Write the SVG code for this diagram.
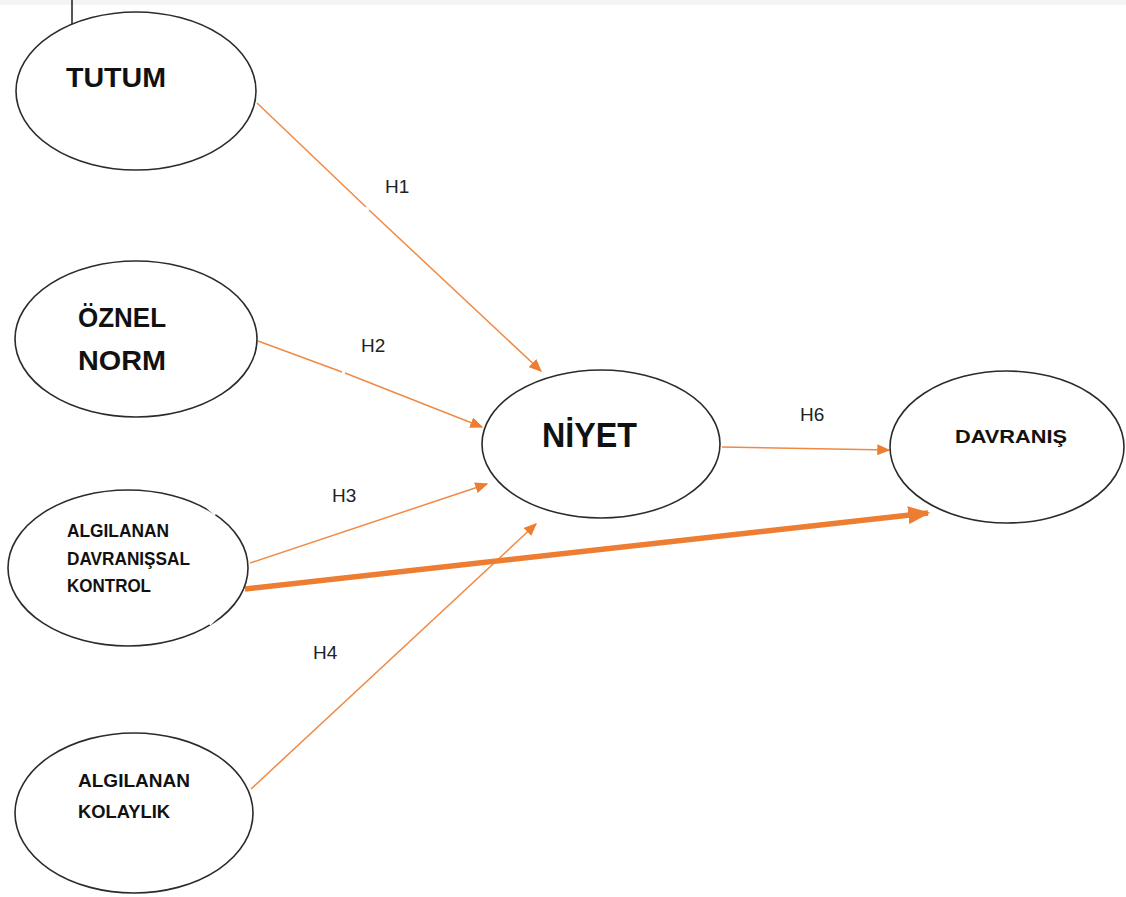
<svg xmlns="http://www.w3.org/2000/svg" width="1126" height="897" viewBox="0 0 1126 897">
<defs>
<style>
.node ellipse{fill:#fff;stroke:#2b2b2b;stroke-width:1.6}
.t{font-family:"Liberation Sans",Arial,sans-serif;font-weight:bold;fill:#111}
.lbl{font-family:"Liberation Sans",Arial,sans-serif;font-size:19px;fill:#222}
.c{stroke:#EF8A45;stroke-width:1.5;fill:none}
.thick{stroke:#ED7D31;stroke-width:5.5;fill:none}
</style>
<marker id="ahs" viewBox="0 0 10 10" refX="9" refY="5" markerWidth="13" markerHeight="11" markerUnits="userSpaceOnUse" orient="auto" preserveAspectRatio="none">
<path d="M0,0 L10,5 L0,10 z" fill="#ED7D31"/>
</marker>
<marker id="ahb" viewBox="0 0 10 10" refX="9" refY="5" markerWidth="22" markerHeight="18" markerUnits="userSpaceOnUse" orient="auto" preserveAspectRatio="none">
<path d="M0,0 L10,5 L0,10 z" fill="#ED7D31"/>
</marker>
</defs>
<rect width="1126" height="897" fill="#fff"/>
<rect width="1126" height="5" fill="#f4f4f4"/>
<line x1="72" y1="0" x2="72" y2="24" stroke="#2b2b2b" stroke-width="1.6"/>

<g id="connectors">
<path class="c" d="M257,103 L366,207"/>
<path class="c" d="M369,210 L541,371" marker-end="url(#ahs)"/>
<path class="c" d="M258,341 L342,372"/>
<path class="c" d="M345,373 L482,427" marker-end="url(#ahs)"/>
<path class="c" d="M250,563 L487,484" marker-end="url(#ahs)"/>
<path class="c" d="M251,789 L536,524" marker-end="url(#ahs)"/>
<path class="c" d="M722,447 L889,450" marker-end="url(#ahs)"/>
<path class="thick" d="M245,589 L928,513" marker-end="url(#ahb)"/>
<text class="lbl" x="385" y="193">H1</text>
<text class="lbl" x="361" y="352">H2</text>
<text class="lbl" x="332" y="502">H3</text>
<text class="lbl" x="313" y="659">H4</text>
<text class="lbl" x="800" y="421">H6</text>
</g>

<g id="tutum" class="node">
<ellipse cx="136" cy="91" rx="120" ry="79"/>
<text class="t" x="66" y="87" font-size="28" textLength="100" lengthAdjust="spacingAndGlyphs">TUTUM</text>
</g>

<g id="oznel-norm" class="node">
<ellipse cx="136" cy="339" rx="121" ry="78"/>
<text class="t" x="78" y="327" font-size="28" textLength="88" lengthAdjust="spacingAndGlyphs">ÖZNEL</text>
<text class="t" x="78" y="370" font-size="28" textLength="88" lengthAdjust="spacingAndGlyphs">NORM</text>
</g>

<g id="algilanan-davranissal-kontrol" class="node">
<ellipse cx="128" cy="568" rx="120" ry="78"/>
<line x1="208" y1="507" x2="216" y2="514" stroke="#fff" stroke-width="4"/>
<line x1="216" y1="617" x2="209" y2="624" stroke="#fff" stroke-width="4"/>
<text class="t" x="67" y="537" font-size="18" textLength="102" lengthAdjust="spacingAndGlyphs">ALGILANAN</text>
<text class="t" x="67" y="565" font-size="18" textLength="123" lengthAdjust="spacingAndGlyphs">DAVRANIŞSAL</text>
<text class="t" x="67" y="592" font-size="18" textLength="84" lengthAdjust="spacingAndGlyphs">KONTROL</text>
</g>

<g id="algilanan-kolaylik" class="node">
<ellipse cx="134" cy="813" rx="119" ry="80"/>
<text class="t" x="78" y="787" font-size="19" textLength="112" lengthAdjust="spacingAndGlyphs">ALGILANAN</text>
<text class="t" x="78" y="818" font-size="19" textLength="92" lengthAdjust="spacingAndGlyphs">KOLAYLIK</text>
</g>

<g id="niyet" class="node">
<ellipse cx="601" cy="444" rx="119" ry="74"/>
<text class="t" x="542" y="447" font-size="35" textLength="95" lengthAdjust="spacingAndGlyphs">NİYET</text>
</g>

<g id="davranis" class="node">
<ellipse cx="1007" cy="447" rx="117" ry="76"/>
<text class="t" x="955" y="443" font-size="19" textLength="112" lengthAdjust="spacingAndGlyphs">DAVRANIŞ</text>
</g>
</svg>
